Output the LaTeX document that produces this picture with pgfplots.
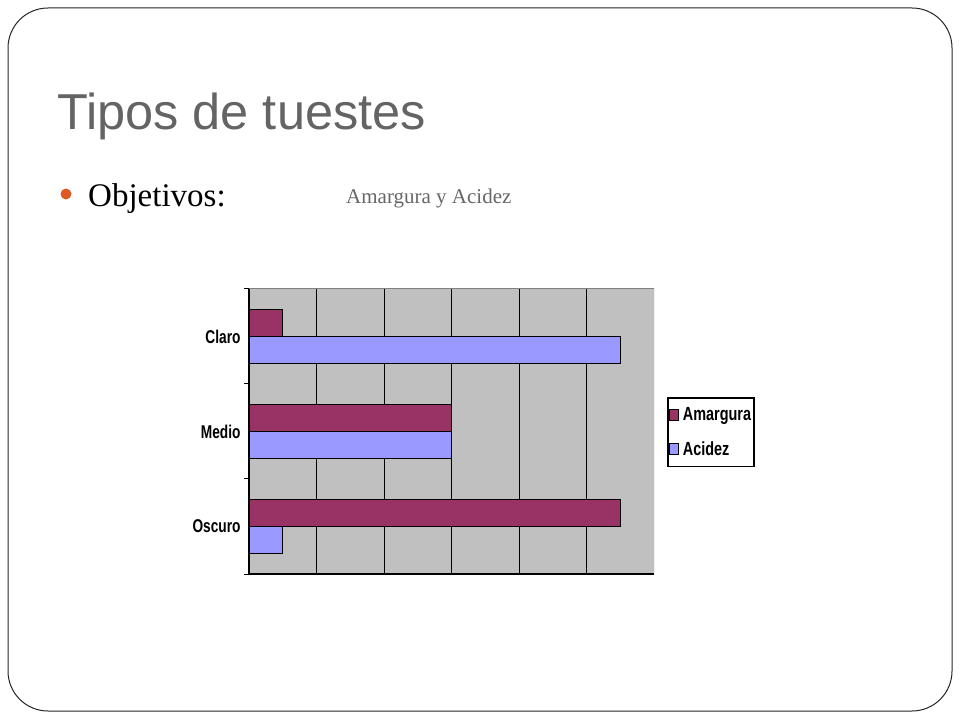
\documentclass[border=0pt]{standalone}
\usepackage{fontspec}
\setmainfont{Liberation Serif}
\newfontfamily\sans{Liberation Sans}
\usepackage{pgfplots}
\pgfplotsset{compat=1.18}
\definecolor{amarg}{HTML}{993366}
\definecolor{acid}{HTML}{9999FF}
\definecolor{plotbg}{HTML}{C0C0C0}
\definecolor{bulletc}{HTML}{DD5A24}
\definecolor{titlegray}{HTML}{646464}
\newcommand{\nlab}[1]{\scalebox{0.74}[1]{#1}}
\newcommand{\llab}[1]{\scalebox{0.76}[1]{#1}}
\begin{document}
\begin{tikzpicture}[x=1pt,y=1pt]
\path (0,0) rectangle (960,720);
% slide frame
\draw[line width=1pt, black!85, rounded corners=40pt] (8,9) rectangle (952,712);
\node[anchor=base west, inner sep=0, text=titlegray, font=\sans\fontsize{50.5}{60}\selectfont] at (57,590) {Tipos de tuestes};
\fill[bulletc] (66,526) circle (5.5);
\node[anchor=base west, inner sep=0, font=\fontsize{33}{38}\selectfont] at (88,513) {Objetivos:};
\node[anchor=base west, inner sep=0, text=black!60, font=\fontsize{21}{25}\selectfont] at (346,516) {Amargura y Acidez};

\begin{axis}[
  at={(249pt,146pt)}, anchor=south west,
  scale only axis, width=405pt, height=285pt,
  xbar, bar width=27pt,
  xmin=0, xmax=6, ymin=0.5, ymax=3.5,
  axis background/.style={fill=plotbg},
  axis x line*=bottom, axis y line*=left,
  axis line style={black, line width=1.2pt},
  xtick={1,2,3,4,5}, xticklabels={},
  xmajorgrids, grid style={black, line width=1pt},
  ytick={1,2,3},
  yticklabels={\nlab{Oscuro},\nlab{Medio},\nlab{Claro}},
  minor ytick={0.5,1.5,2.5,3.5},
  major tick length=0pt, minor tick length=5pt,
  tick align=outside, tick style={black, line width=1pt},
  ticklabel style={font=\sans\bfseries\fontsize{18.5}{21}\selectfont},
  yticklabel style={xshift=-5pt},
  legend style={at={(1.032,0.621)}, anchor=north west, draw=black, line width=1.6pt,
    font=\sans\bfseries\fontsize{19}{22}\selectfont, row sep=15pt,
    inner xsep=1pt, inner ysep=8pt},
  legend cell align=left,
  legend image code/.code={\draw[#1, line width=1pt] (0pt,-5.5pt) rectangle (9pt,5.5pt);
    \path (11pt,0pt);},
]
\addplot[fill=amarg, draw=black, line width=1.3pt, bar shift=13.5pt]
  coordinates {(5.5,1) (3,2) (0.5,3)};
\addplot[fill=acid, draw=black, line width=1.3pt, bar shift=-13.5pt]
  coordinates {(0.5,1) (3,2) (5.5,3)};
\addlegendentry{\llab{Amargura}}
\addlegendentry{\llab{Acidez}}
\draw[gray, line width=1pt] (rel axis cs:0,1) -- (rel axis cs:1,1) -- (rel axis cs:1,0);
\end{axis}
\end{tikzpicture}
\end{document}
